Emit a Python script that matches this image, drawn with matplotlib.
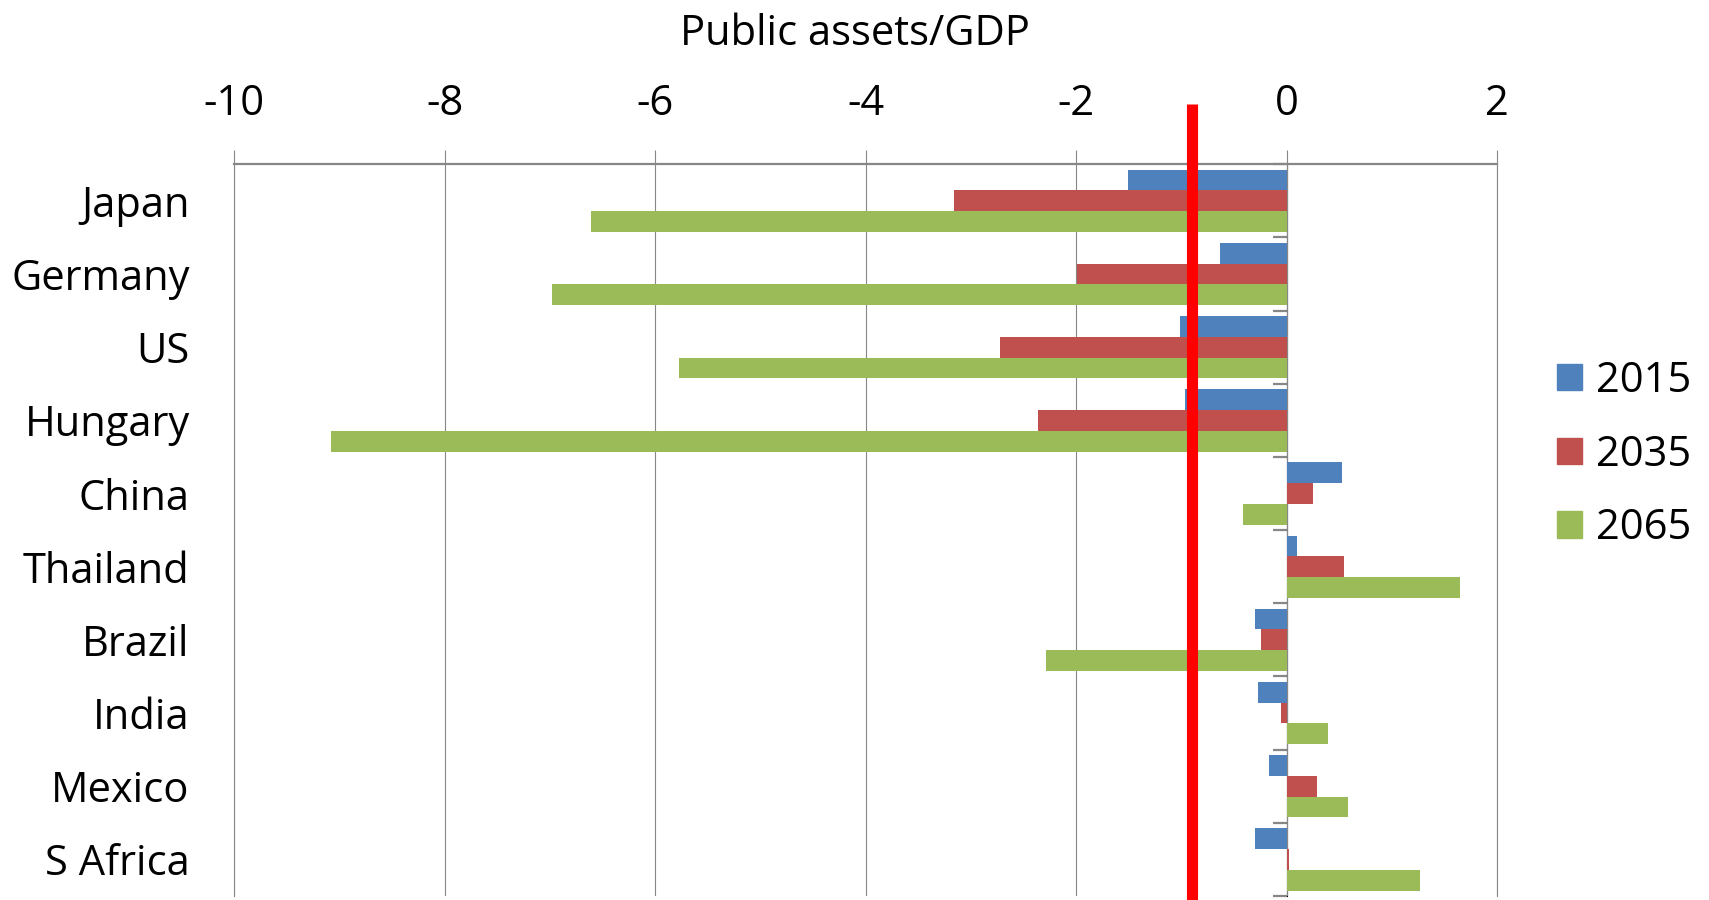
import numpy as np
import matplotlib.pyplot as plt
from matplotlib.patches import Patch

# -----------------------------
# Datos
# -----------------------------
paises = ["Japan", "Germany", "US", "Hungary", "China", "Thailand",
          "Brazil", "India", "Mexico", "S Africa"]
anios = ["2015", "2035", "2065"]
v2015 = [-1.51, -0.63, -1.01, -0.97, 0.53, 0.10, -0.30, -0.27, -0.17, -0.30]
v2035 = [-3.16, -1.99, -2.72, -2.36, 0.25, 0.55, -0.24, -0.05, 0.29, 0.02]
v2065 = [-6.61, -6.98, -5.77, -9.08, -0.41, 1.65, -2.29, 0.39, 0.58, 1.27]
xticks = [-10, -8, -6, -4, -2, 0, 2]
linea_roja = -0.9

colores = ["#4F81BD", "#C0504D", "#9BBB59"]
gris = "#878787"

plt.rcParams['font.family'] = ['Open Sans', 'DejaVu Sans']

fig = plt.figure(figsize=(17.09, 9.0), dpi=100)
ax = fig.add_axes([0.137, 0.0045, 0.739, 0.813])

y = np.arange(len(paises))
h = 0.284
for i, (serie, col) in enumerate(zip([v2015, v2035, v2065], colores)):
    ax.barh(y + (i - 1) * h, serie, height=h, color=col, zorder=3)

ax.set_xlim(-10, 2)
ax.set_ylim(len(paises) - 0.5, -0.5)

# eje x arriba
ax.xaxis.tick_top()
ax.set_xticks(xticks)
ax.set_xticklabels([str(t) for t in xticks])
ax.tick_params(axis='x', length=10, width=0.8, color=gris, labelsize=30, pad=18)
ax.grid(axis='x', color=gris, linewidth=0.8, zorder=0)

# etiquetas de países
ax.set_yticks(y)
ax.set_yticklabels(paises)
ax.tick_params(axis='y', length=0, labelsize=30, pad=32)

ax.spines['bottom'].set_visible(False)
for s in ['left', 'right']:
    ax.spines[s].set_color(gris)
    ax.spines[s].set_linewidth(0.8)
ax.spines['top'].set_color(gris)
ax.spines['top'].set_linewidth(1.6)

# eje vertical en x=0 con marcas entre categorías
sec = ax.secondary_yaxis(10 / 12)
sec.set_yticks(np.arange(len(paises) + 1) - 0.5)
sec.set_yticklabels([])
sec.yaxis.set_ticks_position('left')
sec.tick_params(axis='y', length=10, width=1.6, color=gris,
                labelleft=False, labelright=False)
sec.spines['left'].set_color(gris)
sec.spines['left'].set_linewidth(1.6)

# línea roja
ax.axvline(linea_roja, ymin=-0.01, ymax=1.082, color="#FF0000", linewidth=8,
           solid_capstyle='butt', clip_on=False, zorder=5)

fig.suptitle("Public assets/GDP", fontsize=30, x=0.5, y=0.986, va='top')

handles = [Patch(color=c) for c in colores]
fig.legend(handles, anios, loc='center left', bbox_to_anchor=(0.911, 0.495),
           frameon=False, fontsize=30, handlelength=0.6, handleheight=0.6,
           handletextpad=0.35, labelspacing=0.76, borderpad=0, borderaxespad=0)

fig.savefig("out.png", dpi=100)
